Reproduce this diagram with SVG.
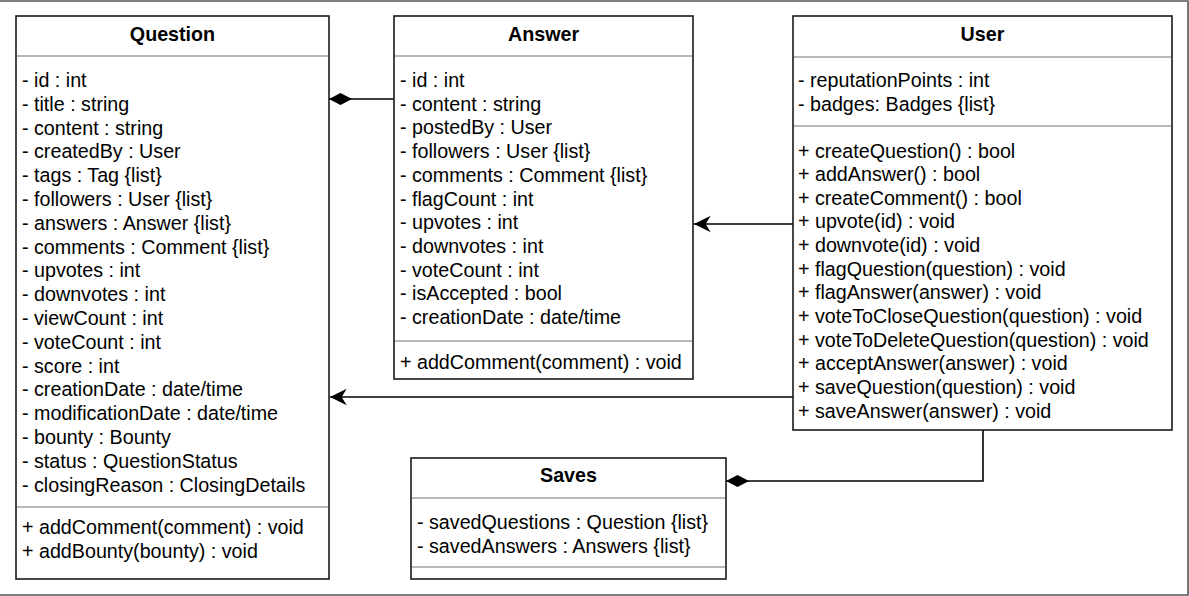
<svg xmlns="http://www.w3.org/2000/svg" width="1189" height="596" viewBox="0 0 1189 596">
<style>
  .box{fill:#fff;stroke:#1a1a1a;stroke-width:1.6}
  .sep{stroke:#a0a0a0;stroke-width:1.6;fill:none}
  .t{font-family:"Liberation Sans",Arial,Helvetica,sans-serif;font-size:19.7px;fill:#000}
  .h{font-family:"Liberation Sans",Arial,Helvetica,sans-serif;font-size:19.7px;font-weight:bold;fill:#000;text-anchor:middle}
  .c{stroke:#000;stroke-width:1.6;fill:none}
</style>
<defs>
  <marker id="arrow" markerUnits="userSpaceOnUse" markerWidth="20" markerHeight="20" viewBox="-16 -8 18 16" refX="0" refY="0" orient="auto">
    <path d="M0,0 L-15,-7.5 L-10.5,0 L-15,7.5 Z" fill="#000"/>
  </marker>
  <marker id="diamond" markerUnits="userSpaceOnUse" markerWidth="26" markerHeight="16" viewBox="-24 -8 26 16" refX="0" refY="0" orient="auto">
    <path d="M0,0 L-11.5,-6 L-23,0 L-11.5,6 Z" fill="#000"/>
  </marker>
</defs>
<rect width="1189" height="596" fill="#fff"/>
<path d="M0,1 H1188 V595 H0" fill="none" stroke="#555" stroke-width="1.6"/>

<g id="connectors">
  <path class="c" d="M394,99 H329" marker-end="url(#diamond)"/>
  <path class="c" d="M793,224 H694" marker-end="url(#arrow)"/>
  <path class="c" d="M793,397 H330" marker-end="url(#arrow)"/>
  <path class="c" d="M983,430 V481 H726" marker-end="url(#diamond)"/>
</g>

<g id="question">
  <rect class="box" x="16" y="16" width="313" height="563"/>
  <line class="sep" x1="17" y1="56" x2="328" y2="56"/>
  <line class="sep" x1="17" y1="507" x2="328" y2="507"/>
  <text class="h" x="172.5" y="41">Question</text>
  <text class="t" x="22" y="87">
    <tspan x="22" dy="0">- id : int</tspan>
    <tspan x="22" dy="23.8">- title : string</tspan>
    <tspan x="22" dy="23.8">- content : string</tspan>
    <tspan x="22" dy="23.8">- createdBy : User</tspan>
    <tspan x="22" dy="23.8">- tags : Tag {list}</tspan>
    <tspan x="22" dy="23.8">- followers : User {list}</tspan>
    <tspan x="22" dy="23.8">- answers : Answer {list}</tspan>
    <tspan x="22" dy="23.8">- comments : Comment {list}</tspan>
    <tspan x="22" dy="23.8">- upvotes : int</tspan>
    <tspan x="22" dy="23.8">- downvotes : int</tspan>
    <tspan x="22" dy="23.8">- viewCount : int</tspan>
    <tspan x="22" dy="23.8">- voteCount : int</tspan>
    <tspan x="22" dy="23.8">- score : int</tspan>
    <tspan x="22" dy="23.8">- creationDate : date/time</tspan>
    <tspan x="22" dy="23.8">- modificationDate : date/time</tspan>
    <tspan x="22" dy="23.8">- bounty : Bounty</tspan>
    <tspan x="22" dy="23.8">- status : QuestionStatus</tspan>
    <tspan x="22" dy="23.8">- closingReason : ClosingDetails</tspan>
  </text>
  <text class="t" x="22" y="534">
    <tspan x="22" dy="0">+ addComment(comment) : void</tspan>
    <tspan x="22" dy="23.8">+ addBounty(bounty) : void</tspan>
  </text>
</g>

<g id="answer">
  <rect class="box" x="394" y="16" width="299" height="363"/>
  <line class="sep" x1="395" y1="56" x2="692" y2="56"/>
  <line class="sep" x1="395" y1="341" x2="692" y2="341"/>
  <text class="h" x="543.5" y="41">Answer</text>
  <text class="t" x="400" y="87">
    <tspan x="400" dy="0">- id : int</tspan>
    <tspan x="400" dy="23.7">- content : string</tspan>
    <tspan x="400" dy="23.7">- postedBy : User</tspan>
    <tspan x="400" dy="23.7">- followers : User {list}</tspan>
    <tspan x="400" dy="23.7">- comments : Comment {list}</tspan>
    <tspan x="400" dy="23.7">- flagCount : int</tspan>
    <tspan x="400" dy="23.7">- upvotes : int</tspan>
    <tspan x="400" dy="23.7">- downvotes : int</tspan>
    <tspan x="400" dy="23.7">- voteCount : int</tspan>
    <tspan x="400" dy="23.7">- isAccepted : bool</tspan>
    <tspan x="400" dy="23.7">- creationDate : date/time</tspan>
  </text>
  <text class="t" x="400" y="369">+ addComment(comment) : void</text>
</g>

<g id="user">
  <rect class="box" x="793" y="16" width="379" height="414"/>
  <line class="sep" x1="794" y1="57" x2="1171" y2="57"/>
  <line class="sep" x1="794" y1="126" x2="1171" y2="126"/>
  <text class="h" x="982.5" y="41">User</text>
  <text class="t" x="798" y="87">
    <tspan x="798" dy="0">- reputationPoints : int</tspan>
    <tspan x="798" dy="23.7">- badges: Badges {list}</tspan>
  </text>
  <text class="t" x="798" y="157.5">
    <tspan x="798" dy="0">+ createQuestion() : bool</tspan>
    <tspan x="798" dy="23.64">+ addAnswer() : bool</tspan>
    <tspan x="798" dy="23.64">+ createComment() : bool</tspan>
    <tspan x="798" dy="23.64">+ upvote(id) : void</tspan>
    <tspan x="798" dy="23.64">+ downvote(id) : void</tspan>
    <tspan x="798" dy="23.64">+ flagQuestion(question) : void</tspan>
    <tspan x="798" dy="23.64">+ flagAnswer(answer) : void</tspan>
    <tspan x="798" dy="23.64">+ voteToCloseQuestion(question) : void</tspan>
    <tspan x="798" dy="23.64">+ voteToDeleteQuestion(question) : void</tspan>
    <tspan x="798" dy="23.64">+ acceptAnswer(answer) : void</tspan>
    <tspan x="798" dy="23.64">+ saveQuestion(question) : void</tspan>
    <tspan x="798" dy="23.64">+ saveAnswer(answer) : void</tspan>
  </text>
</g>

<g id="saves">
  <rect class="box" x="411" y="458" width="315" height="121"/>
  <line class="sep" x1="412" y1="498" x2="725" y2="498"/>
  <line class="sep" x1="412" y1="567" x2="725" y2="567"/>
  <text class="h" x="568.5" y="482">Saves</text>
  <text class="t" x="417" y="529">
    <tspan x="417" dy="0">- savedQuestions : Question {list}</tspan>
    <tspan x="417" dy="23.7">- savedAnswers : Answers {list}</tspan>
  </text>
</g>
</svg>
